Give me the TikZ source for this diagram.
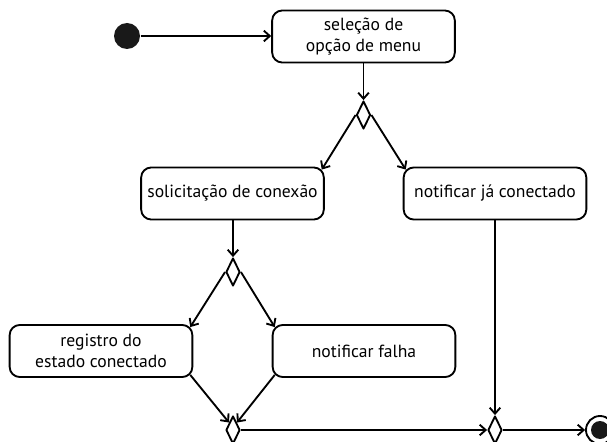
\documentclass[tikz,border=0pt]{standalone}
\usepackage{fontspec}
\setmainfont{PT Sans}
\usetikzlibrary{shapes.geometric,arrows.meta}
\tikzset{
  acao/.style={draw, rounded corners=7.5pt, minimum width=137pt, minimum height=39pt,
    align=center, inner sep=2pt, font=\fontsize{13.2}{16}\selectfont},
  decisao/.style={draw, fill=white, diamond, inner sep=0pt, minimum width=10.5pt, minimum height=21pt},
  fluxo/.style={-{Straight Barb[length=4.5pt,width=8pt]}},
}
\begin{document}
\begin{tikzpicture}[x=0.75pt, y=-0.75pt, line width=1.4pt, line join=round]
\useasboundingbox (0,0) rectangle (607,442);
% nodes
\node[circle, fill=black!90, minimum size=19.5pt, inner sep=0pt] (inicio) at (127,36) {};
\node[acao] (selecao) at (363.5,36.5) {seleção de\\opção de menu};
\node[decisao] (d1) at (363.5,115) {};
\node[acao] (solicita) at (232.5,193.5) {solicitação de conexão};
\node[acao] (jaconectado) at (495,193.5) {notificar já conectado};
\node[decisao] (d2) at (233,272) {};
\node[acao] (registro) at (101,351) {registro do\\estado conectado};
\node[acao] (falha) at (364,351) {notificar falha};
\node[decisao] (d3) at (233,430) {};
\node[decisao] (d4) at (495,430) {};
\node[circle, draw, minimum size=21pt, inner sep=0pt] (fim) at (600,430) {};
\node[circle, fill=black!90, minimum size=13.5pt, inner sep=0pt] (fimdentro) at (fim) {};
% connectors
\draw[fluxo] (inicio.east) -- (inicio.east -| selecao.west);
\draw[fluxo] (selecao) -- (d1);
\draw[fluxo] (d1.west) -- ([shift={(-3,3)}]solicita.north east);
\draw[fluxo] (d1.east) -- ([shift={(3,3)}]jaconectado.north west);
\draw[fluxo] (solicita.south -| d2) -- (d2);
\draw[fluxo] (d2.west) -- ([shift={(-3,3)}]registro.north east);
\draw[fluxo] (d2.east) -- ([shift={(3,3)}]falha.north west);
\draw[fluxo] ([shift={(-3,-3)}]registro.south east) -- (d3.north west);
\draw[fluxo] ([shift={(3,-3)}]falha.south west) -- (d3.north east);
\draw[fluxo] (d3.east) -- (d4.west);
\draw[fluxo] (jaconectado) -- (d4);
\draw[fluxo] (d4.east) -- (fim.west);
\end{tikzpicture}
\end{document}
